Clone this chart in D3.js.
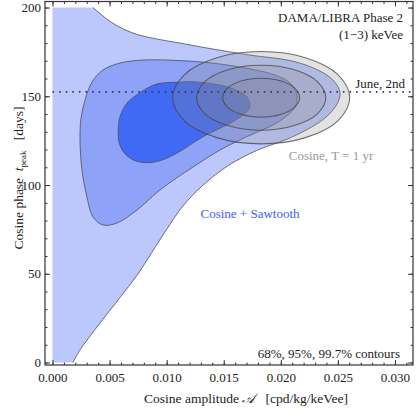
<!DOCTYPE html>
<html>
<head>
<meta charset="utf-8">
<script src="https://cdn.jsdelivr.net/npm/d3@7"></script>
<style>
  body { margin: 0; background: #fff; }
  svg { display: block; font-family: "Liberation Serif", "DejaVu Serif", serif; }
</style>
</head>
<body>
<svg id="chart" width="416" height="409"></svg>
<script>
// axis ticks
const xMajor = [0, 0.005, 0.010, 0.015, 0.020, 0.025, 0.030];
const xMinor = d3.range(0, 0.0315, 0.001);
const yMajor = [0, 50, 100, 150, 200];
const yMinor = d3.range(0, 201, 10);

// June 2nd reference line
const junePeak = 152.5;

// Cosine + Sawtooth, 99.7% (only the curved edge, the rest runs along A = 0 and t = 200)
const saw997 = [
  [0.00355, 200], [0.00520, 191.5], [0.00705, 185.6], [0.00910, 182.3], [0.01116, 180.0],
  [0.01353, 177.2], [0.01729, 173.2], [0.02097, 169.9], [0.02325, 164.8], [0.02456, 159.2],
  [0.02518, 152.4], [0.02500, 146.5], [0.02386, 137.7], [0.02097, 127.0], [0.01790, 119.5],
  [0.01540, 111.0], [0.01320, 100.0], [0.01140, 88.0], [0.01000, 75.0], [0.00870, 62.0],
  [0.00750, 50.0], [0.00620, 39.0], [0.00480, 27.5], [0.00330, 15.0], [0.00230, 6.0],
  [0.00180, 0]
];
const saw997Edge = [[0, 0], [0, 200]];

// Cosine + Sawtooth, 95%
const saw95 = [
  [0.00241, 125.4], [0.00250, 137.7], [0.00285, 147.9], [0.00346, 158.0], [0.00442, 164.8],
  [0.00591, 168.7], [0.00792, 170.4], [0.01178, 169.9], [0.01467, 168.2], [0.01730, 165.4],
  [0.01949, 162.0], [0.02080, 157.5], [0.02141, 150.7], [0.02132, 145.1], [0.02080, 140.6],
  [0.01949, 134.4], [0.01773, 129.3], [0.01642, 125.4], [0.01467, 119.7], [0.01230, 110.1],
  [0.00941, 97.2], [0.00740, 85.9], [0.00565, 78.6], [0.00442, 77.5], [0.00355, 82.0],
  [0.00302, 93.2], [0.00258, 108.5]
];

// Cosine + Sawtooth, 68%
const saw68 = [
  [0.00576, 131.0], [0.00591, 138.5], [0.00650, 146.0], [0.00737, 150.7], [0.00854, 155.4],
  [0.00941, 157.3], [0.01088, 157.9], [0.01230, 158.2], [0.01467, 156.3], [0.01642, 152.6],
  [0.01712, 148.8], [0.01729, 144.1], [0.01686, 140.4], [0.01581, 135.7], [0.01318, 127.2],
  [0.01088, 117.9], [0.00941, 113.7], [0.00825, 112.6], [0.00708, 114.1], [0.00620, 118.8],
  [0.00582, 124.4]
];

// Cosine, T = 1 yr
const cos997 = [
  [0.02604, 149.2], [0.02500, 162.2], [0.02216, 171.7], [0.01828, 175.2], [0.01440, 171.7],
  [0.01156, 162.2], [0.01052, 149.2], [0.01156, 136.2], [0.01440, 126.7], [0.01828, 123.2],
  [0.02216, 126.7], [0.02500, 136.2]
];
const cos95 = [
  [0.02394, 149.2], [0.02318, 158.4], [0.02111, 165.1], [0.01828, 167.5], [0.01545, 165.1],
  [0.01338, 158.4], [0.01262, 149.2], [0.01338, 140.0], [0.01545, 133.4], [0.01828, 130.9],
  [0.02111, 133.4], [0.02318, 140.0]
];
const cos68 = [
  [0.02165, 149.2], [0.02120, 154.7], [0.01997, 158.7], [0.01828, 160.2], [0.01659, 158.7],
  [0.01536, 154.7], [0.01491, 149.2], [0.01536, 143.7], [0.01659, 139.7], [0.01828, 138.2],
  [0.01997, 139.7], [0.02120, 143.7]
];

const svg = d3.select('#chart');
const plotLeft = 45, plotRight = 413, plotTop = 1.5, plotBottom = 365;

const x = d3.scaleLinear().domain([-0.000657, 0.03158]).range([plotLeft, plotRight]);
const y = d3.scaleLinear().domain([-1.4, 203.4]).range([plotBottom, plotTop]);

svg.append('clipPath').attr('id', 'plot-clip')
  .append('rect')
  .attr('x', plotLeft).attr('y', plotTop)
  .attr('width', plotRight - plotLeft).attr('height', plotBottom - plotTop);

const plot = svg.append('g').attr('clip-path', 'url(#plot-clip)');

const openLine = d3.line().x(d => x(d[0])).y(d => y(d[1])).curve(d3.curveCatmullRom.alpha(0.5));
const closedLine = d3.line().x(d => x(d[0])).y(d => y(d[1])).curve(d3.curveCatmullRomClosed.alpha(0.5));

const edgeStroke = '#4d4f5c';

// outer blue region: curved edge + straight edges along the plot limits
const curvePath = openLine(saw997);
const edgePath = saw997Edge.map(d => `L${x(d[0])},${y(d[1])}`).join('') + 'Z';
plot.append('path').attr('d', curvePath + edgePath).attr('fill', '#bcc8fb');
plot.append('path').attr('d', curvePath)
  .attr('fill', 'none').attr('stroke', edgeStroke).attr('stroke-width', 1).attr('stroke-opacity', 0.8);

plot.append('path').attr('d', closedLine(saw95))
  .attr('fill', '#8ea3f7').attr('stroke', edgeStroke).attr('stroke-width', 1).attr('stroke-opacity', 0.8);
plot.append('path').attr('d', closedLine(saw68))
  .attr('fill', '#4069f5').attr('stroke', edgeStroke).attr('stroke-width', 1).attr('stroke-opacity', 0.8);

[cos997, cos95, cos68].forEach(ring => {
  plot.append('path').attr('d', closedLine(ring))
    .attr('fill', '#8a8a8a').attr('fill-opacity', 0.25)
    .attr('stroke', '#444').attr('stroke-opacity', 0.75).attr('stroke-width', 1.1);
});

// June 2nd
plot.append('line')
  .attr('x1', x(0)).attr('x2', plotRight)
  .attr('y1', y(junePeak)).attr('y2', y(junePeak))
  .attr('stroke', '#3a3a4a').attr('stroke-width', 1.6)
  .attr('stroke-dasharray', '1.6,5');

// frame and ticks
const tickColor = '#333';
function frameAxis(axis, transform, size, values, labels) {
  const g = svg.append('g').attr('transform', transform)
    .call(axis.tickValues(values).tickSize(size).tickSizeOuter(0)
      .tickFormat(labels ? labels : () => ''));
  g.select('.domain').remove();
  g.selectAll('.tick line').attr('stroke', tickColor).attr('stroke-width', 1);
  g.selectAll('text').attr('font-size', 13).attr('font-family', '"Liberation Serif", serif').attr('fill', '#222');
  return g;
}

const fx = d3.format('.3f');
frameAxis(d3.axisBottom(x), `translate(0,${plotBottom})`, -5, xMajor, fx)
  .selectAll('text').attr('dy', '1.05em').attr('y', 3);
frameAxis(d3.axisBottom(x), `translate(0,${plotBottom})`, -2.5, xMinor, null);
frameAxis(d3.axisTop(x), `translate(0,${plotTop})`, -5, xMajor, null);
frameAxis(d3.axisTop(x), `translate(0,${plotTop})`, -2.5, xMinor, null);

frameAxis(d3.axisLeft(y), `translate(${plotLeft},0)`, -5, yMajor, d3.format('d'))
  .selectAll('text').attr('x', -4);
frameAxis(d3.axisLeft(y), `translate(${plotLeft},0)`, -2.5, yMinor, null);
frameAxis(d3.axisRight(y), `translate(${plotRight},0)`, -5, yMajor, null);
frameAxis(d3.axisRight(y), `translate(${plotRight},0)`, -2.5, yMinor, null);

svg.append('rect')
  .attr('x', plotLeft).attr('y', plotTop)
  .attr('width', plotRight - plotLeft).attr('height', plotBottom - plotTop)
  .attr('fill', 'none').attr('stroke', '#333').attr('stroke-width', 1.2);

// annotations
const note = (tx, ty, anchor, color, str) => svg.append('text')
  .attr('x', tx).attr('y', ty).attr('text-anchor', anchor)
  .attr('font-size', 13).attr('fill', color).text(str);

note(403, 22, 'end', '#222', 'DAMA/LIBRA Phase 2');
note(403, 39, 'end', '#222', '(1\u22123) keVee');
note(405, 88, 'end', '#222', 'June, 2nd');
note(331, 160, 'middle', '#999', 'Cosine, T = 1 yr');
note(250, 218, 'middle', '#3d5ef5', 'Cosine + Sawtooth');
note(400, 358, 'end', '#222', '68%, 95%, 99.7% contours');

// axis titles
const xt = svg.append('text')
  .attr('x', 246).attr('y', 403).attr('text-anchor', 'middle')
  .attr('font-size', 13.5).attr('fill', '#222');
xt.append('tspan').text('Cosine amplitude ');
xt.append('tspan').attr('font-style', 'italic').text('\u{1D49C}');
xt.append('tspan').text('\u00a0\u00a0\u00a0[cpd/kg/keVee]');

const yt = svg.append('text')
  .attr('transform', 'translate(23,178) rotate(-90)')
  .attr('text-anchor', 'middle')
  .attr('font-size', 13.5).attr('fill', '#222');
yt.append('tspan').text('Cosine phase\u00a0\u00a0');
yt.append('tspan').attr('font-style', 'italic').text('t');
yt.append('tspan').attr('font-size', 9).attr('dy', 3).text('peak');
yt.append('tspan').attr('dy', -3).text('\u00a0\u00a0\u00a0[days]');
</script>
</body>
</html>
